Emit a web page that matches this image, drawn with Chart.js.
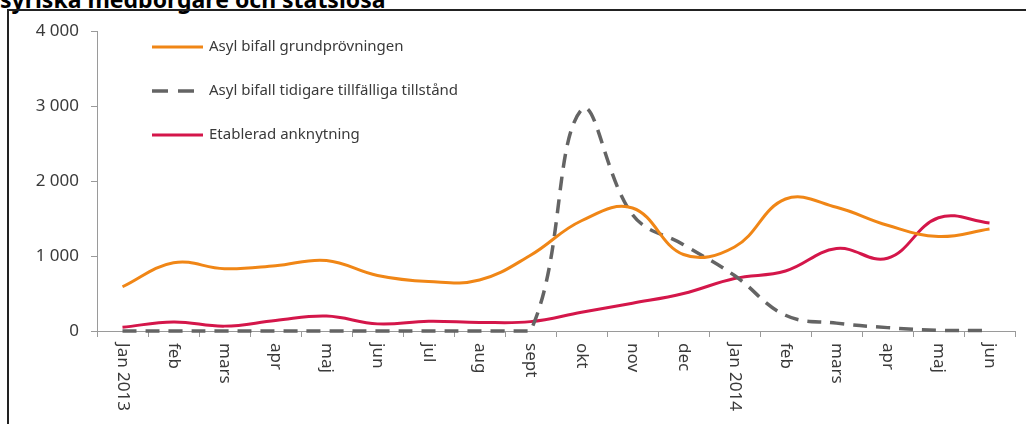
<!DOCTYPE html>
<html lang="sv">
<head>
<meta charset="utf-8">
<script src="https://cdn.jsdelivr.net/npm/chart.js@4.4.1/dist/chart.umd.min.js"></script>
<style>
  html, body { margin: 0; padding: 0; background: #fff; overflow: hidden; }
  #wrap { position: relative; width: 1026px; height: 425px; }
  #rubrik {
    position: absolute; left: 0; top: -12px;
    font: bold 23px/23px "Noto Sans", sans-serif; color: #000; white-space: nowrap;
  }
  #ram {
    position: absolute; left: 7px; top: 9px; right: 0; bottom: 1px;
    border-top: 2px solid #222; border-left: 2px solid #222;
  }
  canvas { position: absolute; left: 0; top: 0; }
</style>
</head>
<body>
<div id="wrap">
  <div id="rubrik">syriska medborgare och statslösa</div>
  <div id="ram"></div>
  <canvas id="graf" width="1026" height="425"></canvas>
</div>
<script>
// Månader (jan 2013 - jun 2014)
const manader = ['Jan 2013', 'feb', 'mars', 'apr', 'maj', 'jun', 'jul', 'aug', 'sept',
                 'okt', 'nov', 'dec', 'Jan 2014', 'feb', 'mars', 'apr', 'maj', 'jun'];

// Värden
const grundprovningen = [590, 910, 830, 870, 940, 740, 660, 680, 1010,
                         1470, 1640, 1020, 1120, 1760, 1650, 1410, 1260, 1360];
const tidigareTillfalliga = [0, 0, 0, 0, 0, 0, 0, 0, 0,
                             2950, 1550, 1150, 740, 210, 105, 45, 10, 5];
const etableradAnknytning = [50, 120, 65, 140, 200, 95, 130, 115, 125,
                             250, 370, 500, 700, 800, 1100, 970, 1510, 1440];

const yTicks = [0, 1000, 2000, 3000, 4000];

const ORANGE = 'rgb(240, 134, 22)';
const GRA = 'rgb(100, 100, 100)';
const ROD = 'rgb(212, 22, 74)';
const AXEL = '#9a9a9a';
const TEXT = '#3a3a3a';
const FONT = '"Noto Sans", sans-serif';

// Formatterar 4000 -> "4 000"
function tusental(v) {
    return String(v).replace(/\B(?=(\d{3})+(?!\d))/g, ' ');
}

// Ritar legenden inne i diagrammet och de roterade månadsetiketterna
const egnaEtiketter = {
    id: 'egnaEtiketter',
    afterDraw(chart) {
        const ctx = chart.ctx;
        const xs = chart.scales.x;

        // x-etiketter, roterade medurs
        ctx.save();
        ctx.fillStyle = TEXT;
        ctx.font = '17px ' + FONT;
        ctx.textAlign = 'left';
        ctx.textBaseline = 'middle';
        manader.forEach((m, i) => {
            const x = xs.getPixelForTick(i);
            ctx.save();
            ctx.translate(x, chart.chartArea.bottom + 12);
            ctx.rotate(Math.PI / 2);
            ctx.fillText(m, 0, 0);
            ctx.restore();
        });
        ctx.restore();

        // legend
        const x0 = 152, x1 = 203, yStart = 47, steg = 44;
        chart.data.datasets.forEach((ds, i) => {
            const y = yStart + i * steg;
            ctx.save();
            ctx.strokeStyle = ds.borderColor;
            ctx.lineWidth = ds.borderWidth;
            ctx.setLineDash(ds.borderDash ? [16, 10] : []);
            ctx.beginPath();
            ctx.moveTo(x0, y);
            ctx.lineTo(x1, y);
            ctx.stroke();
            ctx.restore();

            ctx.save();
            ctx.fillStyle = TEXT;
            ctx.font = '15px ' + FONT;
            ctx.textBaseline = 'middle';
            ctx.fillText(ds.label, 209, y);
            ctx.restore();
        });
    }
};

new Chart(document.getElementById('graf'), {
    type: 'line',
    data: {
        labels: manader,
        datasets: [
            {
                label: 'Asyl bifall grundprövningen',
                data: grundprovningen,
                borderColor: ORANGE,
                borderWidth: 3,
                tension: 0.4,
                clip: 5
            },
            {
                label: 'Asyl bifall tidigare tillfälliga tillstånd',
                data: tidigareTillfalliga,
                borderColor: GRA,
                borderWidth: 3.5,
                borderDash: [14, 9],
                tension: 0.4,
                clip: 5
            },
            {
                label: 'Etablerad anknytning',
                data: etableradAnknytning,
                borderColor: ROD,
                borderWidth: 3,
                tension: 0.4,
                clip: 5
            }
        ]
    },
    options: {
        responsive: false,
        animation: false,
        layout: { padding: { left: 10, right: 11, top: 31, bottom: 0 } },
        elements: { point: { radius: 0 } },
        plugins: {
            legend: { display: false },
            title: { display: false },
            tooltip: { enabled: false }
        },
        scales: {
            x: {
                offset: true,
                grid: {
                    offset: true,
                    drawOnChartArea: false,
                    drawTicks: true,
                    tickLength: 6,
                    color: AXEL
                },
                border: { color: AXEL, width: 1 },
                ticks: { display: false },
                afterFit(scale) { scale.height = 94; }
            },
            y: {
                min: 0,
                max: 4000,
                afterBuildTicks(scale) { scale.ticks = yTicks.map(v => ({ value: v })); },
                grid: {
                    drawOnChartArea: false,
                    drawTicks: true,
                    tickLength: 6,
                    color: AXEL
                },
                border: { color: AXEL, width: 1 },
                ticks: {
                    padding: 12,
                    color: TEXT,
                    font: { family: FONT, size: 17 },
                    callback: v => tusental(v)
                },
                afterFit(scale) { scale.width = 87; }
            }
        }
    },
    plugins: [egnaEtiketter]
});
</script>
</body>
</html>
